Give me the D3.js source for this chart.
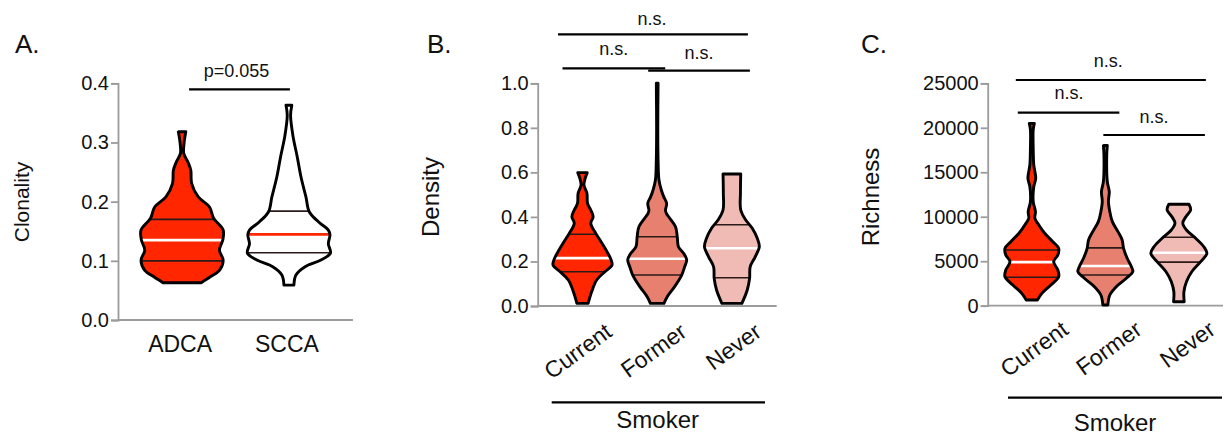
<!DOCTYPE html>
<html>
<head>
<meta charset="utf-8">
<script src="https://cdn.jsdelivr.net/npm/d3@7"></script>
<style>
  body { margin: 0; background: #fff; }
  svg { display: block; }
  text { font-family: "Liberation Sans", Arial, Helvetica, sans-serif; fill: #111; }
</style>
</head>
<body>
<svg id="chart" width="1224" height="442"></svg>
<script>
// ---------- data ----------
const histologyGroups = ["ADCA", "SCCA"];
const smokerGroups = ["Current", "Former", "Never"];

// Violin outlines: [value, relative density] from top to bottom of each violin
const clonalityADCA = [[0.318,0.09],[0.300,0.05],[0.2815,0.04],[0.267,0.14],[0.253,0.21],[0.231,0.23],[0.208,0.39],[0.191,0.66],[0.172,0.76],[0.152,0.99],[0.135,0.98],[0.118,0.90],[0.101,0.99],[0.084,0.90],[0.073,0.68],[0.063,0.46]];
const clonalitySCCA = [[0.363,0.07],[0.346,0.04],[0.310,0.10],[0.276,0.20],[0.242,0.29],[0.208,0.41],[0.183,0.49],[0.166,0.71],[0.152,0.95],[0.144,0.99],[0.129,0.95],[0.113,1.00],[0.101,0.76],[0.090,0.39],[0.076,0.17],[0.059,0.12]];

const densityCurrent = [[0.599,0.16],[0.573,0.09],[0.543,0.05],[0.506,0.15],[0.461,0.17],[0.431,0.28],[0.401,0.36],[0.371,0.28],[0.326,0.45],[0.282,0.66],[0.244,0.83],[0.207,0.97],[0.184,1.00],[0.154,0.76],[0.117,0.48],[0.064,0.31],[0.012,0.19]];
const densityFormer = [[1.000,0.03],[0.800,0.02],[0.656,0.03],[0.566,0.06],[0.521,0.14],[0.491,0.22],[0.461,0.32],[0.430,0.28],[0.416,0.31],[0.356,0.62],[0.311,0.68],[0.266,0.72],[0.236,0.90],[0.207,1.00],[0.176,0.93],[0.139,0.83],[0.087,0.59],[0.042,0.34],[0.012,0.23]];
const densityNever = [[0.593,0.30],[0.506,0.29],[0.431,0.30],[0.386,0.47],[0.349,0.69],[0.304,0.86],[0.266,0.93],[0.221,0.79],[0.176,0.62],[0.124,0.60],[0.072,0.52],[0.012,0.34]];

const richnessCurrent = [[20500,0.09],[19760,0.05],[17700,0.05],[15820,0.07],[14330,0.14],[13380,0.07],[11700,0.05],[10570,0.13],[9830,0.11],[9080,0.25],[8140,0.46],[7200,0.75],[6450,0.96],[5700,0.93],[4950,0.78],[4010,0.93],[3260,0.96],[2330,0.68],[1390,0.36],[640,0.20]];
const richnessFormer = [[18000,0.07],[16950,0.05],[13950,0.07],[12820,0.14],[11700,0.11],[10570,0.16],[9450,0.25],[8320,0.45],[7390,0.60],[6450,0.65],[5330,0.78],[4390,0.93],[3820,0.98],[3080,0.75],[2140,0.39],[1200,0.16],[80,0.09]];
const richnessNever = [[11400,0.36],[10760,0.42],[10010,0.25],[9270,0.14],[8510,0.27],[7580,0.60],[6630,0.89],[5890,1.00],[4950,0.78],[3820,0.46],[2700,0.27],[1570,0.18],[450,0.19]];

// Quartiles per group: [Q1, median, Q3]
const clonalityQuartiles = [[0.100, 0.135, 0.170], [0.1137, 0.1447, 0.184]];
const densityQuartiles = [[0.154, 0.215, 0.322], [0.139, 0.212, 0.311], [0.127, 0.259, 0.365]];
const richnessQuartiles = [[3190, 4900, 6260], [3450, 4460, 6500], [4900, 5960, 7700]];

// Tick values
const clonalityTicks = [0, 0.1, 0.2, 0.3, 0.4];
const densityTicks = [0, 0.2, 0.4, 0.6, 0.8, 1.0];
const richnessTicks = [0, 5000, 10000, 15000, 20000, 25000];

// Comparison annotations: [groupA, groupB, label]
const clonalityTests = [["ADCA", "SCCA", "p=0.055"]];
const smokerDensityTests = [["Current", "Never", "n.s."], ["Current", "Former", "n.s."], ["Former", "Never", "n.s."]];
const smokerRichnessTests = [["Current", "Never", "n.s."], ["Current", "Former", "n.s."], ["Former", "Never", "n.s."]];

// ---------- styling ----------
const RED = "#ff2600", SALMON = "#e8806f", PINK = "#f0bbb4";
const svg = d3.select("#chart");
const defs = svg.append("defs");
let clipId = 0;

function drawPanel(cfg) {
  const g = svg.append("g");
  const y = d3.scaleLinear().domain(cfg.yDomain).range(cfg.yRange);
  const x = d3.scalePoint().domain(cfg.groups).range(cfg.xRange).padding(0.6);
  const w = d3.scaleLinear().domain([0, 1]).range([0, cfg.halfMax]);

  // x axis baseline (no ticks)
  g.append("line")
    .attr("x1", cfg.xRange[0]).attr("x2", cfg.xRange[1])
    .attr("y1", cfg.yRange[0]).attr("y2", cfg.yRange[0])
    .attr("stroke", "#9b9b9b").attr("stroke-width", 1.8);

  // y axis
  const yAxis = d3.axisLeft(y).tickValues(cfg.ticks).tickFormat(cfg.format).tickSize(7).tickPadding(2);
  const ax = g.append("g").attr("transform", `translate(${cfg.xRange[0]},0)`).call(yAxis);
  ax.select(".domain").attr("stroke", "#9b9b9b").attr("stroke-width", 1.8);
  ax.selectAll(".tick line").attr("stroke", "#9b9b9b").attr("stroke-width", 1.8);
  ax.selectAll(".tick text").attr("font-size", cfg.tickFont).attr("fill", "#111")
    .attr("font-family", '"Liberation Sans", Arial, sans-serif');

  // violins
  cfg.groups.forEach((name, i) => {
    const cx = x(name);
    const area = d3.area()
      .y(d => y(d[0]))
      .x0(d => cx - w(d[1]))
      .x1(d => cx + w(d[1]))
      .curve(d3.curveCatmullRom.alpha(0.5));
    const pathD = area(cfg.profiles[i]);
    const id = "violin-clip-" + (clipId++);
    defs.append("clipPath").attr("id", id).append("path").attr("d", pathD);

    g.append("path").attr("d", pathD).attr("fill", cfg.fills[i]).attr("stroke", "none");

    const q = cfg.quartiles[i];
    const lines = g.append("g").attr("clip-path", `url(#${id})`);
    [q[0], q[2]].forEach(v => {
      lines.append("line")
        .attr("x1", cx - cfg.halfMax - 5).attr("x2", cx + cfg.halfMax + 5)
        .attr("y1", y(v)).attr("y2", y(v))
        .attr("stroke", "#2b1a18").attr("stroke-width", 1.6);
    });
    lines.append("line")
      .attr("x1", cx - cfg.halfMax - 5).attr("x2", cx + cfg.halfMax + 5)
      .attr("y1", y(q[1])).attr("y2", y(q[1]))
      .attr("stroke", cfg.medianColors[i]).attr("stroke-width", 2.6);

    g.append("path").attr("d", pathD).attr("fill", "none")
      .attr("stroke", "#000").attr("stroke-width", 2.9).attr("stroke-linejoin", "round");
  });

  // category labels
  if (cfg.rotateLabels) {
    cfg.groups.forEach(name => {
      g.append("text")
        .attr("transform", `translate(${x(name) + cfg.labelDx},${cfg.yRange[0] + cfg.labelDy}) rotate(-36)`)
        .attr("text-anchor", "end").attr("font-size", 23).text(name);
    });
    // group bar and caption
    g.append("line").attr("x1", cfg.groupBar[0]).attr("x2", cfg.groupBar[1])
      .attr("y1", cfg.groupBar[2]).attr("y2", cfg.groupBar[2])
      .attr("stroke", "#000").attr("stroke-width", 2.2);
    g.append("text").attr("x", (cfg.groupBar[0] + cfg.groupBar[1]) / 2 + cfg.groupTitleDx)
      .attr("y", cfg.groupTitleY).attr("text-anchor", "middle").attr("font-size", 24).text(cfg.groupTitle);
  } else {
    cfg.groups.forEach(name => {
      g.append("text").attr("x", x(name) - 2).attr("y", cfg.yRange[0] + 32)
        .attr("text-anchor", "middle").attr("font-size", 23).text(name);
    });
  }

  // y title
  g.append("text")
    .attr("transform", `translate(${cfg.titleX},${cfg.titleY}) rotate(-90)`)
    .attr("text-anchor", "middle").attr("font-size", cfg.titleFont).text(cfg.title);

  // panel letter
  g.append("text").attr("x", cfg.letterPos[0]).attr("y", cfg.letterPos[1])
    .attr("font-size", 26).text(cfg.letter);

  // comparison brackets
  cfg.tests.forEach((t, k) => {
    const lay = cfg.bracketLayout[k];
    const x1 = x(t[0]) + lay.dx0, x2 = x(t[1]) + lay.dx1;
    g.append("line").attr("x1", x1).attr("x2", x2).attr("y1", lay.y).attr("y2", lay.y)
      .attr("stroke", "#000").attr("stroke-width", 2.2);
    g.append("text").attr("x", (x1 + x2) / 2 + lay.tx).attr("y", lay.y - lay.ty)
      .attr("text-anchor", "middle").attr("font-size", 18).text(t[2]);
  });
}

drawPanel({
  letter: "A.", letterPos: [15, 53],
  groups: histologyGroups,
  profiles: [clonalityADCA, clonalitySCCA],
  quartiles: clonalityQuartiles,
  fills: [RED, "#ffffff"], medianColors: ["#ffffff", RED],
  yDomain: [0, 0.4], yRange: [320, 83.3], xRange: [118, 353],
  ticks: clonalityTicks, format: d3.format(".1f"), tickFont: 20,
  halfMax: 41.5,
  title: "Clonality", titleX: 29, titleY: 202, titleFont: 21,
  rotateLabels: false,
  tests: clonalityTests,
  bracketLayout: [{dx0: 7, dx1: 1, y: 89.3, tx: -3, ty: 12.5}]
});

drawPanel({
  letter: "B.", letterPos: [427, 53],
  groups: smokerGroups,
  profiles: [densityCurrent, densityFormer, densityNever],
  quartiles: densityQuartiles,
  fills: [RED, SALMON, PINK], medianColors: ["#ffffff", "#ffffff", "#ffffff"],
  yDomain: [0, 1], yRange: [306, 83.3], xRange: [537.7, 776.7],
  ticks: densityTicks, format: d3.format(".1f"), tickFont: 20,
  halfMax: 29.5,
  title: "Density", titleX: 439, titleY: 197, titleFont: 24,
  rotateLabels: true, labelDx: 31, labelDy: 29,
  groupBar: [551.7, 765, 402.3], groupTitle: "Smoker", groupTitleY: 428, groupTitleDx: -0.7,
  tests: smokerDensityTests,
  bracketLayout: [
    {dx0: -24.5, dx1: 16, y: 34.3, tx: -1, ty: 9},
    {dx0: -20, dx1: 8, y: 68.3, tx: 0, ty: 13},
    {dx0: -9, dx1: 18, y: 70.7, tx: 0, ty: 12}
  ]
});

drawPanel({
  letter: "C.", letterPos: [861, 53],
  groups: smokerGroups,
  profiles: [richnessCurrent, richnessFormer, richnessNever],
  quartiles: richnessQuartiles,
  fills: [RED, SALMON, PINK], medianColors: ["#ffffff", "#ffffff", "#ffffff"],
  yDomain: [0, 25000], yRange: [305.7, 83.3], xRange: [987.7, 1223],
  ticks: richnessTicks, format: d3.format("d"), tickFont: 20,
  halfMax: 28,
  title: "Richness", titleX: 879, titleY: 197, titleFont: 24,
  rotateLabels: true, labelDx: 38, labelDy: 27,
  groupBar: [1008, 1222, 397.7], groupTitle: "Smoker", groupTitleY: 430.5, groupTitleDx: 0,
  tests: smokerRichnessTests,
  bracketLayout: [
    {dx0: -16, dx1: 27, y: 80, tx: -2.7, ty: 13},
    {dx0: -14, dx1: 14, y: 112.7, tx: 0.5, ty: 13.5},
    {dx0: -2, dx1: 26, y: 135, tx: 0, ty: 12}
  ]
});
</script>
</body>
</html>
